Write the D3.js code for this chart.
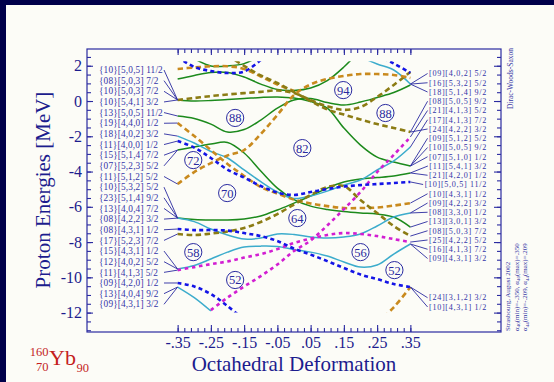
<!DOCTYPE html>
<html>
<head>
<meta charset="utf-8">
<script src="https://cdn.jsdelivr.net/npm/d3@7"></script>
<style>
  html, body { margin: 0; padding: 0; background: #fcfcf7; }
  svg { display: block; }
</style>
</head>
<body>
<svg id="chart" width="554" height="382"></svg>
<script>
// Octahedral deformation grid on which every level is sampled
const deformation = [-0.35, -0.30, -0.25, -0.20, -0.15, -0.10, -0.05, 0, 0.05, 0.10, 0.15, 0.20, 0.25, 0.30, 0.35];

// Single-particle proton energies [MeV] (null = outside the computed window)
const o1 = [1.82, 1.90, 1.97, 1.97, 1.82, 1.39, 0.94, 0.57, null, null, null, null, null, null, null];
const v2 = [null, null, null, 2.6, 1.99, 1.45, 1.02, 0.51, 0.00, -0.48, -0.77, -1.05, -1.31, -1.53, -1.76];
const v3 = [0.06, 0.17, 0.28, 0.37, 0.45, 0.52, 0.60, 0.45, 0.05, -0.30, -0.50, -0.34, 0.23, 0.91, 1.65];
const o4 = [-1.25, -1.99, -2.78, -3.57, -4.25, -4.88, -5.25, -5.59, -5.81, -5.96, -6.07, -6.07, -6.04, -5.93, -5.79];
const o5 = [-4.71, -4.03, -3.52, -3.09, -2.78, -1.87, -0.79, 0.34, 0.94, 1.25, 1.42, 1.53, 1.53, 1.48, 1.31];
const v6 = [-7.54, -7.60, -7.52, -7.40, -7.20, -6.86, -6.41, -5.87, -5.33, -4.88, -4.82, -5.62, -6.35, -7.09, -7.66];
const o7 = [null, null, null, null, null, null, null, null, null, null, null, null, -12.6, -11.7, -10.55];
const g0 = [null, 2.4, 1.99, 1.99, 2.12, 2.6, null, null, null, null, null, null, null, null, null];
const g1 = [1.25, 1.45, 1.62, 1.62, 1.36, 0.96, 0.65, 0.60, 0.74, 1.16, 1.93, 2.9, null, null, null];
const g2 = [0.06, 0.00, 0.03, 0.09, 0.14, 0.20, 0.23, 0.17, -0.03, -0.40, -1.53, -2.50, -3.18, -3.46, -3.69];
const g3 = [-0.85, -0.99, -1.31, -1.76, -1.62, -1.08, -0.40, 0.06, 0.14, -0.09, -0.23, -0.06, 0.20, 0.48, 0.91];
const g4 = [-2.78, -2.61, -2.44, -2.35, -2.95, -3.97, -4.94, -5.59, -5.96, -6.15, -6.27, -6.35, -6.41, -6.58, -7.15];
const g5 = [-6.64, -6.72, -6.75, -6.75, -6.69, -6.52, -6.18, -5.79, -5.39, -4.94, -4.59, -4.42, -4.34, -4.25, -4.08];
const b1 = [2.5, 1.93, 1.70, 1.59, 1.67, 2.33, null, null, null, null, null, null, null, null, null];
const b2 = [-2.27, -2.64, -3.23, -3.89, -4.34, -4.82, -5.19, -5.33, -5.16, -4.99, -4.85, -4.77, -4.71, -4.65, -4.59];
const b3 = [-7.26, -7.32, -7.32, -7.35, -7.49, -7.66, -7.94, -8.37, -8.71, -9.08, -9.47, -9.84, -10.10, -10.38, -10.55];
const b4 = [-10.32, -10.52, -10.95, -11.63, -12.4, null, null, null, null, null, null, null, null, null, null];
const b5 = [null, null, null, null, null, null, null, null, null, null, null, null, 2.6, 2.13, 1.59];
const c1 = [-1.99, -2.38, -2.86, -3.23, -3.91, -4.57, -5.16, -5.53, -5.39, -5.11, -4.77, -4.48, -3.91, -3.40, -2.61];
const c2 = [-6.64, -6.84, -7.26, -7.60, -7.83, -7.77, -7.54, -7.57, -7.71, -7.77, -7.71, -7.54, -7.09, -6.58, -6.35];
const c3 = [-9.53, -9.33, -8.96, -8.57, -8.28, -8.23, -8.25, -8.42, -8.57, -8.79, -9.13, -9.42, -9.30, -8.68, -8.11];
const c4 = [-10.55, -11.15, -11.91, null, null, null, null, null, null, null, null, null, null, null, null];
const c5 = [null, null, null, null, null, null, null, null, null, null, null, 2.5, 2.1, 1.76, 0.96];
const m1 = [-9.59, -9.42, -9.25, -9.10, -8.88, -8.68, -8.40, -8.05, -7.80, -7.60, -7.49, -7.54, -7.66, -7.83, -8.00];
const m2 = [null, null, -11.86, -11.15, -10.52, -9.93, -9.27, -8.51, -7.91, -7.06, -6.13, -5.16, -4.03, -3.06, -2.04];

// Level labels on the left (at -.35) and on the right (at .35), with the level each one names
const leftLabels = ["{10}[5,0,5] 11/2", "{08}[5,0,3] 7/2", "{10}[5,0,3] 7/2", "{10}[5,4,1] 3/2", "{13}[5,0,5] 11/2",
  "{19}[4,4,0] 1/2", "{18}[4,0,2] 3/2", "{11}[4,0,0] 1/2", "{15}[5,1,4] 7/2", "{07}[5,2,3] 5/2", "{11}[5,1,2] 5/2",
  "{10}[5,3,2] 5/2", "{23}[5,1,4] 9/2", "{13}[4,0,4] 7/2", "{08}[4,2,2] 3/2", "{08}[4,3,1] 1/2", "{17}[5,2,3] 7/2",
  "{15}[4,3,1] 1/2", "{12}[4,0,2] 5/2", "{11}[4,1,3] 5/2", "{09}[4,2,0] 1/2", "{13}[4,0,4] 9/2", "{09}[4,3,1] 3/2"];
const leftTargets = ["g2", "g2", "g2", "g2", "g3", "o4", "c1", "b2", "g4", "g4", "o5", "g5", "g5", "g5", "g5",
  "b3", "v6", "c3", "c3", "m1", "b4", "c4", "c4"];
const rightLabelsUpper = ["[09][4,0,2] 5/2", "[16][5,3,2] 5/2", "[18][5,1,4] 9/2", "[08][5,0,5] 9/2", "[21][4,1,3] 5/2",
  "[17][4,1,3] 7/2", "[24][4,2,2] 3/2", "[09][5,1,2] 5/2", "[10][5,0,5] 9/2", "[07][5,1,0] 1/2", "[11][5,4,1] 3/2",
  "[21][4,2,0] 1/2", "[10][5,0,5] 11/2", "[10][4,3,1] 1/2", "[09][4,2,2] 3/2", "[08][3,3,0] 1/2", "[13][3,0,1] 3/2",
  "[08][5,0,3] 7/2", "[25][4,2,2] 5/2", "[16][4,1,3] 7/2", "[09][4,3,1] 3/2"];
const rightTargetsUpper = ["c5", "c5", "c5", "v2", "m2", "c1", "v2", "g2", "g2", "g2", "g5", "g5", "b2", "o4",
  "c2", "c2", "g4", "v6", "m1", "c3", "c3"];
const rightLabelsLower = ["[24][3,1,2] 3/2", "[10][4,3,1] 1/2"];
const rightTargetsLower = ["b3", "o7"];

// Circled shell-gap particle numbers
const gapNumbers = [88, 94, 88, 82, 72, 70, 64, 58, 52, 56, 52];
const gapDeformation = [-0.177, 0.148, 0.275, 0.025, -0.303, -0.201, 0.010, -0.303, -0.177, 0.200, 0.302];
const gapEnergy = [-0.96, 0.62, -0.68, -2.67, -3.35, -5.22, -6.64, -8.57, -10.15, -8.57, -9.59];

// Axis ticks
const xTickValues = [-0.35, -0.25, -0.15, -0.05, 0.05, 0.15, 0.25, 0.35];
const xTickLabels = ["-.35", "-.25", "-.15", "-.05", ".05", ".15", ".25", ".35"];
const yTickValues = [2, 0, -2, -4, -6, -8, -10, -12];
const yTickLabels = ["2", "0", "-2", "-4", "-6", "-8", "-10", "-12"];

// Line style for each kind of level
const styles = {
  green:   { stroke: "#1c8a1c", width: 1.5, dash: null },
  cyan:    { stroke: "#3caccc", width: 1.5, dash: null },
  blue:    { stroke: "#1414e6", width: 2.6, dash: "4,3.2" },
  magenta: { stroke: "#d21ed2", width: 2.6, dash: "3.6,3.6" },
  orange:  { stroke: "#c98a1e", width: 2.6, dash: "5.5,3.5" },
  olive:   { stroke: "#8c7c14", width: 2.6, dash: "5.5,3.5" }
};

const levels = [
  { key: "g0", kind: "green", e: g0 }, { key: "g1", kind: "green", e: g1 }, { key: "g2", kind: "green", e: g2 },
  { key: "g3", kind: "green", e: g3 }, { key: "g4", kind: "green", e: g4 }, { key: "g5", kind: "green", e: g5 },
  { key: "c1", kind: "cyan", e: c1 }, { key: "c2", kind: "cyan", e: c2 }, { key: "c3", kind: "cyan", e: c3 },
  { key: "c4", kind: "cyan", e: c4 }, { key: "c5", kind: "cyan", e: c5 },
  { key: "o1", kind: "orange", e: o1 }, { key: "v2", kind: "olive", e: v2 }, { key: "v3", kind: "olive", e: v3 },
  { key: "o4", kind: "orange", e: o4 }, { key: "o5", kind: "orange", e: o5 }, { key: "v6", kind: "olive", e: v6 },
  { key: "o7", kind: "orange", e: o7 },
  { key: "m1", kind: "magenta", e: m1 }, { key: "m2", kind: "magenta", e: m2 },
  { key: "b1", kind: "blue", e: b1 }, { key: "b2", kind: "blue", e: b2 }, { key: "b3", kind: "blue", e: b3 },
  { key: "b4", kind: "blue", e: b4 }, { key: "b5", kind: "blue", e: b5 }
];
const levelByKey = Object.fromEntries(levels.map(l => [l.key, l]));

const W = 554, H = 382;
const ink = "#2a2aa0";
const labelInk = "#3434a8";
const serif = "'Liberation Serif', 'DejaVu Serif', serif";

const svg = d3.select("#chart");

// page background and the dark strips along the top and left edges
svg.append("rect").attr("width", W).attr("height", H).attr("fill", "#fcfcf7");
svg.append("rect").attr("x", 0).attr("y", 0).attr("width", W).attr("height", 5).attr("fill", "#00004a");
svg.append("rect").attr("x", 0).attr("y", 0).attr("width", 6).attr("height", H).attr("fill", "#00004a");

// scales
const plot = { left: 87, right: 501, top: 49, bottom: 332 };
const x = d3.scaleLinear().domain([-0.6226, 0.6226]).range([plot.left, plot.right]);
const y = d3.scaleLinear().domain([-13.1, 2.95]).range([plot.bottom, plot.top]);

// frame
svg.append("rect")
  .attr("x", plot.left).attr("y", plot.top)
  .attr("width", plot.right - plot.left).attr("height", plot.bottom - plot.top)
  .attr("fill", "none").attr("stroke", ink).attr("stroke-width", 1.2);

// inward ticks on all four sides
const xMinor = d3.range(-0.35, 0.3501, 0.02);
const yMinor = d3.range(-13, 2.51, 0.5);

function styleAxis(g) {
  g.select(".domain").remove();
  g.selectAll(".tick line").attr("stroke", ink).attr("stroke-width", 1.1);
  g.selectAll(".tick text").attr("fill", "#1c1c8e").attr("font-family", serif).attr("font-size", 16);
}

svg.append("g").attr("transform", `translate(0,${plot.bottom})`)
  .call(d3.axisBottom(x).tickValues(xMinor).tickSize(-4).tickSizeOuter(0).tickFormat(""))
  .call(styleAxis);
svg.append("g").attr("transform", `translate(0,${plot.bottom})`)
  .call(d3.axisBottom(x).tickValues(xTickValues).tickSize(-7).tickSizeOuter(0).tickPadding(5)
    .tickFormat((d, i) => xTickLabels[i]))
  .call(styleAxis);
svg.append("g").attr("transform", `translate(0,${plot.top})`)
  .call(d3.axisTop(x).tickValues(xMinor).tickSize(-4).tickSizeOuter(0).tickFormat(""))
  .call(styleAxis);
svg.append("g").attr("transform", `translate(0,${plot.top})`)
  .call(d3.axisTop(x).tickValues(xTickValues).tickSize(-6).tickSizeOuter(0).tickFormat(""))
  .call(styleAxis);

svg.append("g").attr("transform", `translate(${plot.left},0)`)
  .call(d3.axisLeft(y).tickValues(yMinor).tickSize(-4).tickSizeOuter(0).tickFormat(""))
  .call(styleAxis);
svg.append("g").attr("transform", `translate(${plot.left},0)`)
  .call(d3.axisLeft(y).tickValues(yTickValues).tickSize(-6).tickSizeOuter(0).tickPadding(5)
    .tickFormat((d, i) => yTickLabels[i]))
  .call(styleAxis);
svg.append("g").attr("transform", `translate(${plot.right},0)`)
  .call(d3.axisRight(y).tickValues(yMinor).tickSize(-4).tickSizeOuter(0).tickFormat(""))
  .call(styleAxis);
svg.append("g").attr("transform", `translate(${plot.right},0)`)
  .call(d3.axisRight(y).tickValues(yTickValues).tickSize(-7).tickSizeOuter(0).tickFormat(""))
  .call(styleAxis);

// levels, clipped to the computed energy window
const defs = svg.append("defs");
defs.append("clipPath").attr("id", "level-window")
  .append("rect")
  .attr("x", plot.left).attr("y", y(2.25))
  .attr("width", plot.right - plot.left).attr("height", y(-12.0) - y(2.25));

const line = d3.line()
  .defined(d => d[1] != null)
  .x(d => x(d[0]))
  .y(d => y(d[1]))
  .curve(d3.curveCatmullRom.alpha(0.5));

const levelLayer = svg.append("g").attr("clip-path", "url(#level-window)");
levelLayer.selectAll("path")
  .data(levels)
  .join("path")
  .attr("d", l => line(deformation.map((d, i) => [d, l.e[i]])))
  .attr("fill", "none")
  .attr("stroke", l => styles[l.kind].stroke)
  .attr("stroke-width", l => styles[l.kind].width)
  .attr("stroke-dasharray", l => styles[l.kind].dash)
  .attr("stroke-linecap", "butt");

// level labels and their leader lines
const leftLayer = svg.append("g");
leftLabels.forEach((t, i) => {
  const ly = 70 + i * 10.65;
  const lv = levelByKey[leftTargets[i]];
  leftLayer.append("line")
    .attr("x1", 164).attr("y1", ly)
    .attr("x2", x(deformation[0])).attr("y2", y(lv.e[0]))
    .attr("stroke", ink).attr("stroke-width", 0.9);
  leftLayer.append("text")
    .attr("x", 99).attr("y", ly).attr("dy", "0.34em")
    .attr("font-family", serif).attr("font-size", 9.3).attr("letter-spacing", 0.15)
    .attr("fill", labelInk)
    .text(t);
});

const rightLayer = svg.append("g");
function rightLabel(t, ly, key) {
  const lv = levelByKey[key];
  const last = deformation.length - 1;
  const txt = rightLayer.append("text")
    .attr("x", 487).attr("y", ly).attr("dy", "0.34em")
    .attr("text-anchor", "end")
    .attr("font-family", serif).attr("font-size", 8.1).attr("letter-spacing", 0.7)
    .attr("fill", labelInk)
    .text(t);
  const w = txt.node().getComputedTextLength();
  rightLayer.append("line")
    .attr("x1", x(deformation[last])).attr("y1", y(lv.e[last]))
    .attr("x2", 487 - w - 1.5).attr("y2", ly)
    .attr("stroke", ink).attr("stroke-width", 0.9);
}
rightLabelsUpper.forEach((t, i) => rightLabel(t, 73.5 + i * 9.25, rightTargetsUpper[i]));
rightLabelsLower.forEach((t, i) => rightLabel(t, 297.7 + i * 9.25, rightTargetsLower[i]));

// circled gap numbers
const gaps = svg.append("g").selectAll("g")
  .data(gapNumbers.map((n, i) => ({ n, d: gapDeformation[i], e: gapEnergy[i] })))
  .join("g")
  .attr("transform", g => `translate(${x(g.d)},${y(g.e)})`);
gaps.append("circle").attr("r", 8.6)
  .attr("fill", "#fcfcf7").attr("stroke", ink).attr("stroke-width", 1);
gaps.append("text")
  .attr("text-anchor", "middle").attr("dy", "0.36em")
  .attr("font-family", serif).attr("font-size", 12.5).attr("fill", ink)
  .text(g => g.n);

// axis titles
svg.append("text")
  .attr("x", (x(-0.35) + x(0.35)) / 2).attr("y", 371)
  .attr("text-anchor", "middle")
  .attr("font-family", serif).attr("font-size", 21).attr("fill", "#1c1c8e")
  .text("Octahedral Deformation");
svg.append("text")
  .attr("transform", "translate(50,190) rotate(-90)")
  .attr("text-anchor", "middle")
  .attr("font-family", serif).attr("font-size", 21).attr("fill", "#1c1c8e")
  .text("Proton Energies [MeV]");

// nucleus
const red = "#c41e1e";
svg.append("text").attr("x", 48.5).attr("y", 356).attr("text-anchor", "end")
  .attr("font-family", serif).attr("font-size", 12.5).attr("fill", red).text("160");
svg.append("text").attr("x", 48.5).attr("y", 371).attr("text-anchor", "end")
  .attr("font-family", serif).attr("font-size", 12.5).attr("fill", red).text("70");
const yb = svg.append("text").attr("x", 49).attr("y", 365)
  .attr("font-family", serif).attr("font-size", 22).attr("fill", red).text("Yb");
const ybEnd = 49 + yb.node().getComputedTextLength();
svg.append("text").attr("x", ybEnd + 0.5).attr("y", 372)
  .attr("font-family", serif).attr("font-size", 12.5).attr("fill", red).text("90");

// side notes along the right axis
const noteInk = "#3535a5";
svg.append("text")
  .attr("transform", `translate(513,${plot.top - 1}) rotate(-90)`)
  .attr("text-anchor", "end")
  .attr("font-family", serif).attr("font-size", 7.5).attr("fill", noteInk)
  .text("Dirac-Woods-Saxon");
svg.append("text")
  .attr("transform", `translate(510,${plot.bottom - 1}) rotate(-90)`)
  .attr("font-family", serif).attr("font-size", 7).attr("fill", noteInk)
  .text("Strasbourg, August 2002");

function alphaNote(xPos, sub, lo, hi) {
  const t = svg.append("text")
    .attr("transform", `translate(${xPos},${plot.bottom - 1}) rotate(-90)`)
    .attr("font-family", serif).attr("font-size", 7).attr("fill", noteInk);
  t.append("tspan").text("α");
  t.append("tspan").attr("font-size", 5).attr("dy", 1.5).text(sub);
  t.append("tspan").attr("dy", -1.5).text(`(min)=${lo}, α`);
  t.append("tspan").attr("font-size", 5).attr("dy", 1.5).text(sub);
  t.append("tspan").attr("dy", -1.5).text(`(max)=${hi}`);
}
alphaNote(518.5, "40", "-.350", ".350");
alphaNote(527, "44", "-.209", ".209");
</script>
</body>
</html>
